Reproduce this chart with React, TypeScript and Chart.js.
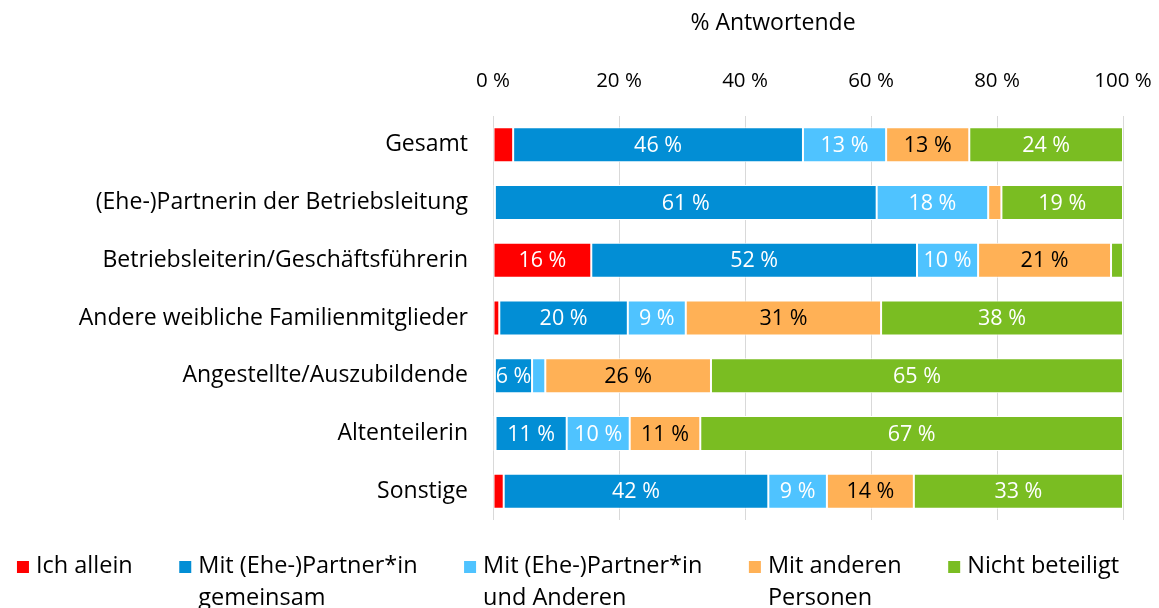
import React, { useEffect, useRef } from 'react';
import { Chart, registerables } from 'chart.js';

Chart.register(...registerables);

const categories = [
  'Gesamt',
  '(Ehe-)Partnerin der Betriebsleitung',
  'Betriebsleiterin/Geschäftsführerin',
  'Andere weibliche Familienmitglieder',
  'Angestellte/Auszubildende',
  'Altenteilerin',
  'Sonstige',
];
const seriesNames = [
  'Ich allein',
  'Mit (Ehe-)Partner*in\ngemeinsam',
  'Mit (Ehe-)Partner*in\nund Anderen',
  'Mit anderen\nPersonen',
  'Nicht beteiligt',
];
const ichAllein = [3.2, 0.3, 15.6, 1.0, 0.3, 0.4, 1.7];
const mitPartner = [46.0, 60.6, 51.7, 20.4, 5.9, 11.3, 42.0];
const mitPartnerUndAnderen = [13.2, 17.7, 9.7, 9.2, 2.1, 10.0, 9.3];
const mitAnderen = [13.2, 2.1, 21.1, 31.0, 26.3, 11.2, 13.8];
const nichtBeteiligt = [24.4, 19.3, 1.9, 38.4, 65.4, 67.1, 33.2];
const seriesColors = ['#FF0000', '#028ED5', '#4FC3FF', '#FFB156', '#7ABD22'];
const labelColors = ['#FFFFFF', '#FFFFFF', '#FFFFFF', '#000000', '#FFFFFF'];
const xTicks = [0, 20, 40, 60, 80, 100];
const axisTitle = '% Antwortende';

const FONT = '"Open Sans"';
const TEXT = '#000000';
const CANVAS_W = 1151;
const PLOT_RIGHT = 1115;

export default function App() {
  const canvasRef = useRef<HTMLCanvasElement | null>(null);

  useEffect(() => {
    document.documentElement.style.overflow = 'hidden';
    const canvas = canvasRef.current;
    if (!canvas) return;
    const seriesValues = [ichAllein, mitPartner, mitPartnerUndAnderen, mitAnderen, nichtBeteiligt];

    const dataLabelPlugin = {
      id: 'dataLabels',
      afterDatasetsDraw(chart: any) {
        const ctx = chart.ctx;
        ctx.save();
        ctx.font = `21.5px ${FONT}`;
        ctx.textAlign = 'center';
        ctx.textBaseline = 'middle';
        chart.data.datasets.forEach((ds: any, di: number) => {
          const meta = chart.getDatasetMeta(di);
          meta.data.forEach((el: any, i: number) => {
            const v = ds.data[i];
            if (v < 5) return;
            const { x, y, base } = el.getProps(['x', 'y', 'base'], true);
            ctx.fillStyle = labelColors[di];
            ctx.fillText(`${Math.round(v)} %`, (x + base) / 2, y + 1);
          });
        });
        ctx.restore();
      },
    };

    const titleLegendPlugin = {
      id: 'titleLegend',
      afterDraw(chart: any) {
        const ctx = chart.ctx;
        const area = chart.chartArea;
        ctx.save();
        ctx.fillStyle = TEXT;
        ctx.font = `23px ${FONT}`;
        ctx.textAlign = 'center';
        ctx.textBaseline = 'middle';
        ctx.fillText(axisTitle, (area.left + area.right) / 2 - 35, 15);

        // legend
        ctx.font = `23.5px ${FONT}`;
        const box = 12;
        const boxGap = 7;
        const itemGap = 46.5;
        const lineH = 32;
        const items = chart.data.datasets.map((ds: any, i: number) => {
          const lines = String(seriesNames[i]).split('\n');
          const w = Math.max(...lines.map((l: string) => ctx.measureText(l).width));
          return { lines, w: box + boxGap + w, color: seriesColors[i] };
        });
        const total = items.reduce((s: number, it: any) => s + it.w, 0) + itemGap * (items.length - 1);
        let x = 560 - total / 2;
        const y0 = area.bottom + 46;
        ctx.textAlign = 'left';
        items.forEach((it: any) => {
          ctx.fillStyle = it.color;
          ctx.fillRect(x, y0 - box / 2 + 1, box, box);
          ctx.fillStyle = TEXT;
          it.lines.forEach((l: string, li: number) => {
            ctx.fillText(l, x + box + boxGap, y0 + li * lineH);
          });
          x += it.w + itemGap;
        });
        ctx.restore();
      },
    };

    const chart = new Chart(canvas, {
      type: 'bar',
      data: {
        labels: categories,
        datasets: seriesValues.map((vals, i) => ({
          label: seriesNames[i],
          data: vals,
          backgroundColor: seriesColors[i],
          borderColor: '#FFFFFF',
          borderWidth: 1,
          borderSkipped: false,
          barPercentage: 0.606,
          categoryPercentage: 1,
        })),
      },
      options: {
        indexAxis: 'y',
        animation: false,
        responsive: true,
        maintainAspectRatio: false,
        layout: { padding: { left: 0, right: 0, top: 0, bottom: 88 } },
        plugins: {
          legend: { display: false },
          tooltip: { enabled: false },
          title: { display: false },
        },
        scales: {
          x: {
            type: 'linear',
            position: 'top',
            stacked: true,
            min: 0,
            max: 100,
            afterBuildTicks: (scale: any) => {
              scale.ticks = xTicks.map((v) => ({ value: v }));
            },
            afterFit: (scale: any) => {
              scale.height = 108;
              scale.paddingRight = CANVAS_W - PLOT_RIGHT;
            },
            ticks: {
              padding: 23,
              color: TEXT,
              font: { family: FONT, size: 20.5 },
              callback: (v: any) => `${v} %`,
            },
            grid: { color: '#D9D9D9', lineWidth: 1, drawTicks: false },
            border: { display: false },
          },
          y: {
            stacked: true,
            afterFit: (scale: any) => {
              scale.width = 485;
            },
            ticks: {
              padding: 25,
              color: TEXT,
              font: { family: FONT, size: 23 },
            },
            grid: { display: false, drawTicks: false },
            border: { display: false },
          },
        },
      },
      plugins: [dataLabelPlugin, titleLegendPlugin],
    });
    return () => chart.destroy();
  }, []);

  return (
    <div style={{ position: 'relative', width: CANVAS_W, height: 600 }}>
      <canvas ref={canvasRef} />
    </div>
  );
}
